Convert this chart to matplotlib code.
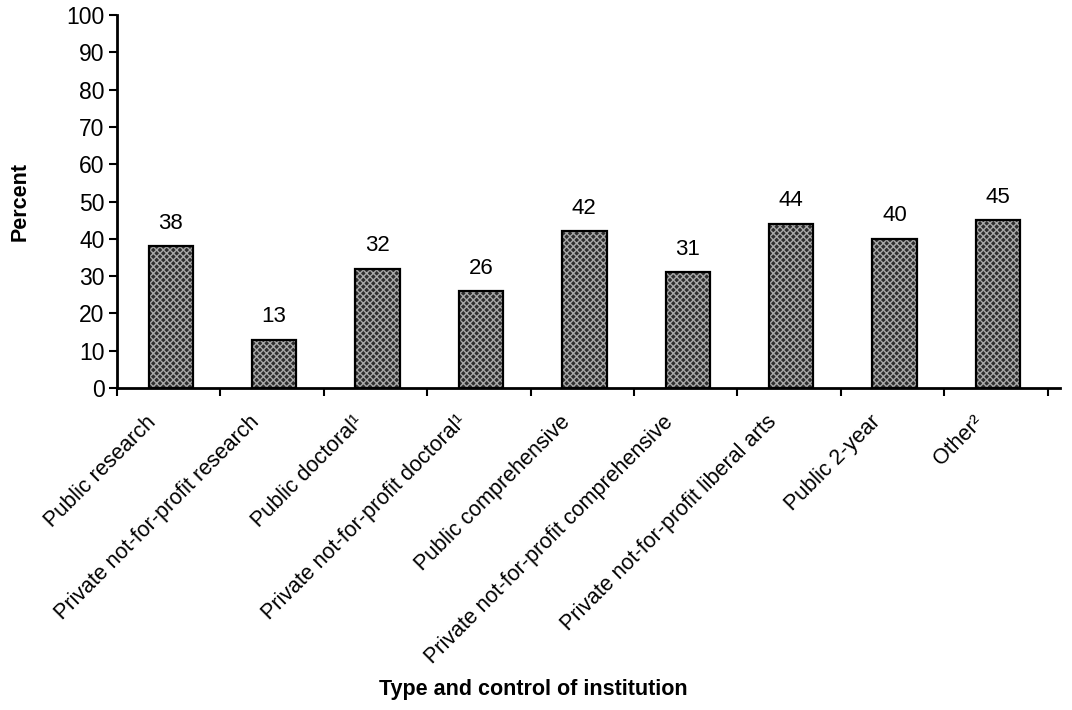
import matplotlib
matplotlib.use("Agg")
import matplotlib.pyplot as plt
import matplotlib.transforms as mtransforms
import numpy as np

plt.rcParams["font.family"] = ["Liberation Sans", "DejaVu Sans"]

categories = [
    "Public research",
    "Private not-for-profit research",
    "Public doctoral\u00b9",
    "Private not-for-profit doctoral\u00b9",
    "Public comprehensive",
    "Private not-for-profit comprehensive",
    "Private not-for-profit liberal arts",
    "Public 2-year",
    "Other\u00b2",
]
percent = [38, 13, 32, 26, 42, 31, 44, 40, 45]
y_ticks = list(range(0, 101, 10))

fig = plt.figure(figsize=(10.72, 7.10), dpi=100)
ax = fig.add_axes([117 / 1072, 1 - 388 / 710, (1060 - 117) / 1072, (388 - 15) / 710])

x = np.arange(len(categories))
width = 0.43

# speckled fill, then a black outline on top
ax.bar(x + 0.02, percent, width, color="#2e2e2e", edgecolor="#a8a8a8",
       hatch="xxxxx", linewidth=0, zorder=2)
ax.bar(x + 0.02, percent, width, fill=False, edgecolor="black",
       linewidth=1.6, zorder=3)

for xi, v in zip(x, percent):
    ax.annotate(str(v), (xi + 0.02, v), xytext=(0, 9), textcoords="offset points",
                ha="center", va="bottom", fontsize=16)

ax.set_xlim(-0.5, len(categories) - 0.5 + 0.12)
ax.set_ylim(0, 100)
ax.set_yticks(y_ticks)
ax.tick_params(axis="y", labelsize=16.5, length=6, width=1.5, direction="out", pad=3)

# tick marks sit between categories, labels under the bar centres
ax.set_xticks(np.arange(len(categories) + 1) - 0.5)
ax.set_xticklabels([])
ax.tick_params(axis="x", which="major", length=6, width=1.5, direction="out")
ax.set_xticks(x, minor=True)
ax.set_xticklabels(categories, minor=True, rotation=45, ha="right",
                   rotation_mode="anchor", fontsize=15.5)
ax.tick_params(axis="x", which="minor", length=0, pad=17)
shift = mtransforms.ScaledTranslation(-23 / 100, 0, fig.dpi_scale_trans)
for lbl in ax.get_xticklabels(minor=True):
    lbl.set_transform(lbl.get_transform() + shift)

for side in ["top", "right"]:
    ax.spines[side].set_visible(False)
for side in ["left", "bottom"]:
    ax.spines[side].set_linewidth(2)

ax.set_ylabel("Percent", fontsize=15.5, fontweight="bold", labelpad=26)
fig.text(533 / 1072, 1 - 690 / 710, "Type and control of institution",
         ha="center", va="center", fontsize=15.5, fontweight="bold")

fig.savefig("out.png", dpi=100, facecolor="white")
